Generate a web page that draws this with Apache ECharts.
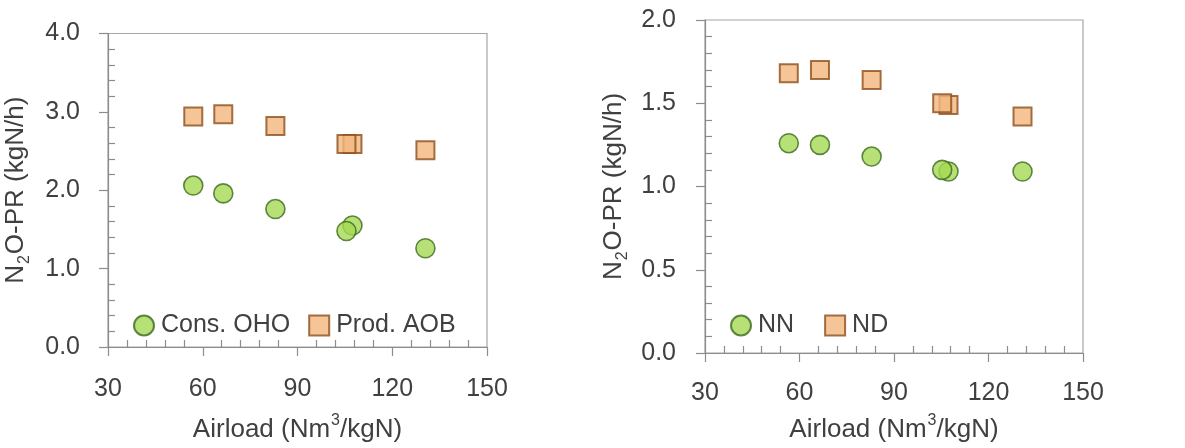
<!DOCTYPE html>
<html>
<head>
<meta charset="utf-8">
<script src="https://cdn.jsdelivr.net/npm/echarts@6/dist/echarts.min.js"></script>
<style>
html,body{margin:0;padding:0;background:#fff;}
#chart{width:1185px;height:448px;}
</style>
</head>
<body>
<div id="chart"></div>
<script>
// ---- data ----
var airloadLeft = [57, 66.5, 83, 107.4, 105.5, 130.5];
var consOHO    = [2.06, 1.96, 1.76, 1.55, 1.48, 1.26];
var prodAOB    = [2.94, 2.97, 2.82, 2.59, 2.59, 2.51];

var airloadRight = [56.6, 66.5, 82.9, 107.3, 105.3, 130.8];
var nnValues     = [1.26, 1.25, 1.18, 1.09, 1.10, 1.09];
var ndValues     = [1.68, 1.70, 1.64, 1.49, 1.50, 1.42];

var xTicks      = [30, 60, 90, 120, 150];
var yTicksLeft  = [0.0, 1.0, 2.0, 3.0, 4.0];
var yTicksRight = [0.0, 0.5, 1.0, 1.5, 2.0];

function minorTicks(majors, parts) {
  var out = [];
  for (var i = 0; i < majors.length - 1; i++) {
    var step = (majors[i + 1] - majors[i]) / parts;
    for (var k = 1; k < parts; k++) out.push(+(majors[i] + step * k).toFixed(4));
  }
  return out;
}

var TXT = '#404040', AX = '#8c8c8c';
var FONT = 'Liberation Sans';

function mainX(grid, gap, margin) {
  return {
    type: 'value', gridIndex: grid, position: 'bottom', min: 30, max: 150, interval: 30,
    name: '{a|Airload (Nm}{s|3}{a|/kgN)}', nameLocation: 'middle', nameGap: gap,
    nameTextStyle: { rich: {
      a: { fontFamily: FONT, fontSize: 26, color: TXT, lineHeight: 30, verticalAlign: 'bottom' },
      s: { fontFamily: FONT, fontSize: 16, color: TXT, lineHeight: 30, verticalAlign: 'top', padding: [0, 0, 0, 1] }
    }},
    axisLine: { show: true, onZero: false, lineStyle: { color: AX, width: 1.2 } },
    axisTick: { show: true, inside: false, length: 9, lineStyle: { color: AX, width: 1.2 } },
    axisLabel: { fontFamily: FONT, fontSize: 25, color: TXT, margin: margin },
    splitLine: { show: false }
  };
}
function minorX(grid) {
  return {
    type: 'value', gridIndex: grid, position: 'bottom', min: 30, max: 150, interval: 6,
    axisLine: { show: false, onZero: false },
    axisTick: { show: true, inside: true, length: 7, customValues: minorTicks(xTicks, 5), lineStyle: { color: AX, width: 1.2 } },
    axisLabel: { show: false }, splitLine: { show: false }
  };
}
function mainY(grid, ticks, gap, margin) {
  return {
    type: 'value', gridIndex: grid, position: 'left', min: ticks[0], max: ticks[ticks.length - 1], interval: ticks[1] - ticks[0],
    name: '{a|N}{s|2}{a|O-PR (kgN/h)}', nameLocation: 'middle', nameGap: gap,
    nameTextStyle: { rich: {
      a: { fontFamily: FONT, fontSize: 26, color: TXT, lineHeight: 30, verticalAlign: 'top' },
      s: { fontFamily: FONT, fontSize: 16, color: TXT, lineHeight: 30, verticalAlign: 'bottom', padding: [0, 1, 0, 1] }
    }},
    axisLine: { show: true, onZero: false, lineStyle: { color: AX, width: 1.2 } },
    axisTick: { show: true, inside: false, length: 9, lineStyle: { color: AX, width: 1.2 } },
    axisLabel: { fontFamily: FONT, fontSize: 25, color: TXT, margin: margin, formatter: function (v) { return v.toFixed(1); } },
    splitLine: { show: false }
  };
}
function minorY(grid, ticks, parts) {
  return {
    type: 'value', gridIndex: grid, position: 'left', min: ticks[0], max: ticks[ticks.length - 1], interval: (ticks[1] - ticks[0]) / parts,
    axisLine: { show: false, onZero: false },
    axisTick: { show: true, inside: true, length: 7, customValues: minorTicks(ticks, parts), lineStyle: { color: AX, width: 1.2 } },
    axisLabel: { show: false }, splitLine: { show: false }
  };
}

var circleStyle = { color: '#a5d854', borderColor: '#3b6a1c', borderWidth: 1.6 };
var squareStyle = { color: '#f3b67e', borderColor: '#8d4e1b', borderWidth: 2 };

function pairs(xs, ys) { return xs.map(function (x, i) { return [x, ys[i]]; }); }

var chart = echarts.init(document.getElementById('chart'), null, { renderer: 'canvas' });
chart.setOption({
  backgroundColor: '#ffffff',
  animation: false,
  grid: [
    { left: 108, top: 33.5, width: 379, height: 320.5, show: true, borderColor: '#a6a6a6', borderWidth: 1.2, backgroundColor: 'transparent' },
    { left: 705, top: 20, width: 378, height: 340, show: true, borderColor: '#a6a6a6', borderWidth: 1.2, backgroundColor: 'transparent' }
  ],
  xAxis: [mainX(0, 66, 30), minorX(0), mainX(1, 60, 28), minorX(1)],
  yAxis: [mainY(0, yTicksLeft, 75, 28), minorY(0, yTicksLeft, 5), mainY(1, yTicksRight, 74, 29), minorY(1, yTicksRight, 5)],
  legend: [
    { left: 128, top: 308, itemWidth: 20, itemHeight: 20, itemGap: 18, data: ['Cons. OHO', 'Prod. AOB'],
      textStyle: { fontFamily: FONT, fontSize: 25, color: TXT, padding: [0, 0, 0, 2] } },
    { left: 725, top: 308, itemWidth: 20, itemHeight: 20, itemGap: 30, data: ['NN', 'ND'],
      textStyle: { fontFamily: FONT, fontSize: 25, color: TXT, padding: [0, 0, 0, 2] } }
  ],
  series: [
    { name: 'Prod. AOB', type: 'scatter', xAxisIndex: 0, yAxisIndex: 0, symbol: 'rect', symbolSize: 18, itemStyle: squareStyle, data: pairs(airloadLeft, prodAOB) },
    { name: 'Cons. OHO', type: 'scatter', xAxisIndex: 0, yAxisIndex: 0, symbol: 'circle', symbolSize: 19, itemStyle: circleStyle, data: pairs(airloadLeft, consOHO) },
    { name: 'ND', type: 'scatter', xAxisIndex: 2, yAxisIndex: 2, symbol: 'rect', symbolSize: 18, itemStyle: squareStyle, data: pairs(airloadRight, ndValues) },
    { name: 'NN', type: 'scatter', xAxisIndex: 2, yAxisIndex: 2, symbol: 'circle', symbolSize: 19, itemStyle: circleStyle, data: pairs(airloadRight, nnValues) }
  ]
});
</script>
</body>
</html>
